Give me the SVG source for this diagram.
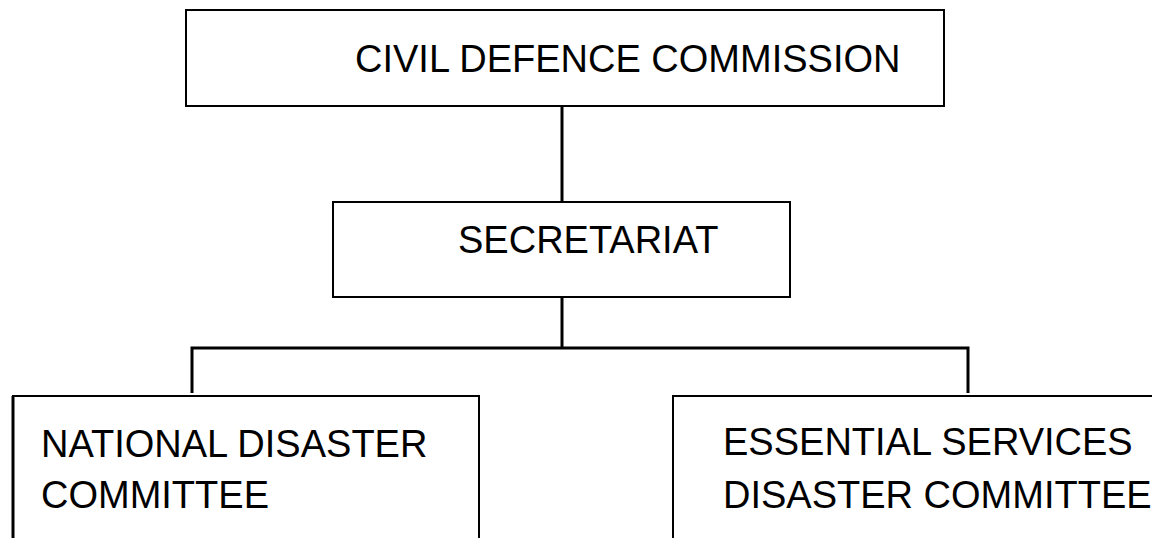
<svg xmlns="http://www.w3.org/2000/svg" width="1152" height="538" viewBox="0 0 1152 538">
<style>
.box{fill:#fff;stroke:#000;stroke-width:2}
.t{font-family:"Liberation Sans",Arial,sans-serif;font-size:38px;fill:#000}
.c{stroke:#000;stroke-width:3;fill:none}
</style>
<rect width="1152" height="538" fill="#fff"/>
<g id="connectors">
<line class="c" x1="562" y1="106" x2="562" y2="202"/>
<line class="c" x1="562" y1="297" x2="562" y2="348"/>
<polyline class="c" points="192,393 192,348 968,348 968,393"/>
</g>
<g id="civil-defence-commission">
<rect class="box" x="186" y="10" width="758" height="96"/>
<text class="t" x="355" y="72">CIVIL DEFENCE COMMISSION</text>
</g>
<g id="secretariat">
<rect class="box" x="333" y="202" width="457" height="95"/>
<text class="t" x="458" y="253">SECRETARIAT</text>
</g>
<g id="national-disaster-committee">
<rect class="box" x="13" y="396" width="466" height="160"/>
<line x1="13" y1="396" x2="13" y2="538" stroke="#000" stroke-width="3"/>
<text class="t" x="41" y="457">NATIONAL DISASTER</text>
<text class="t" x="41" y="508">COMMITTEE</text>
</g>
<g id="essential-services-disaster-committee">
<rect class="box" x="673" y="396" width="500" height="160"/>
<text class="t" x="723" y="455">ESSENTIAL SERVICES</text>
<text class="t" x="723" y="508">DISASTER COMMITTEE</text>
</g>
</svg>
